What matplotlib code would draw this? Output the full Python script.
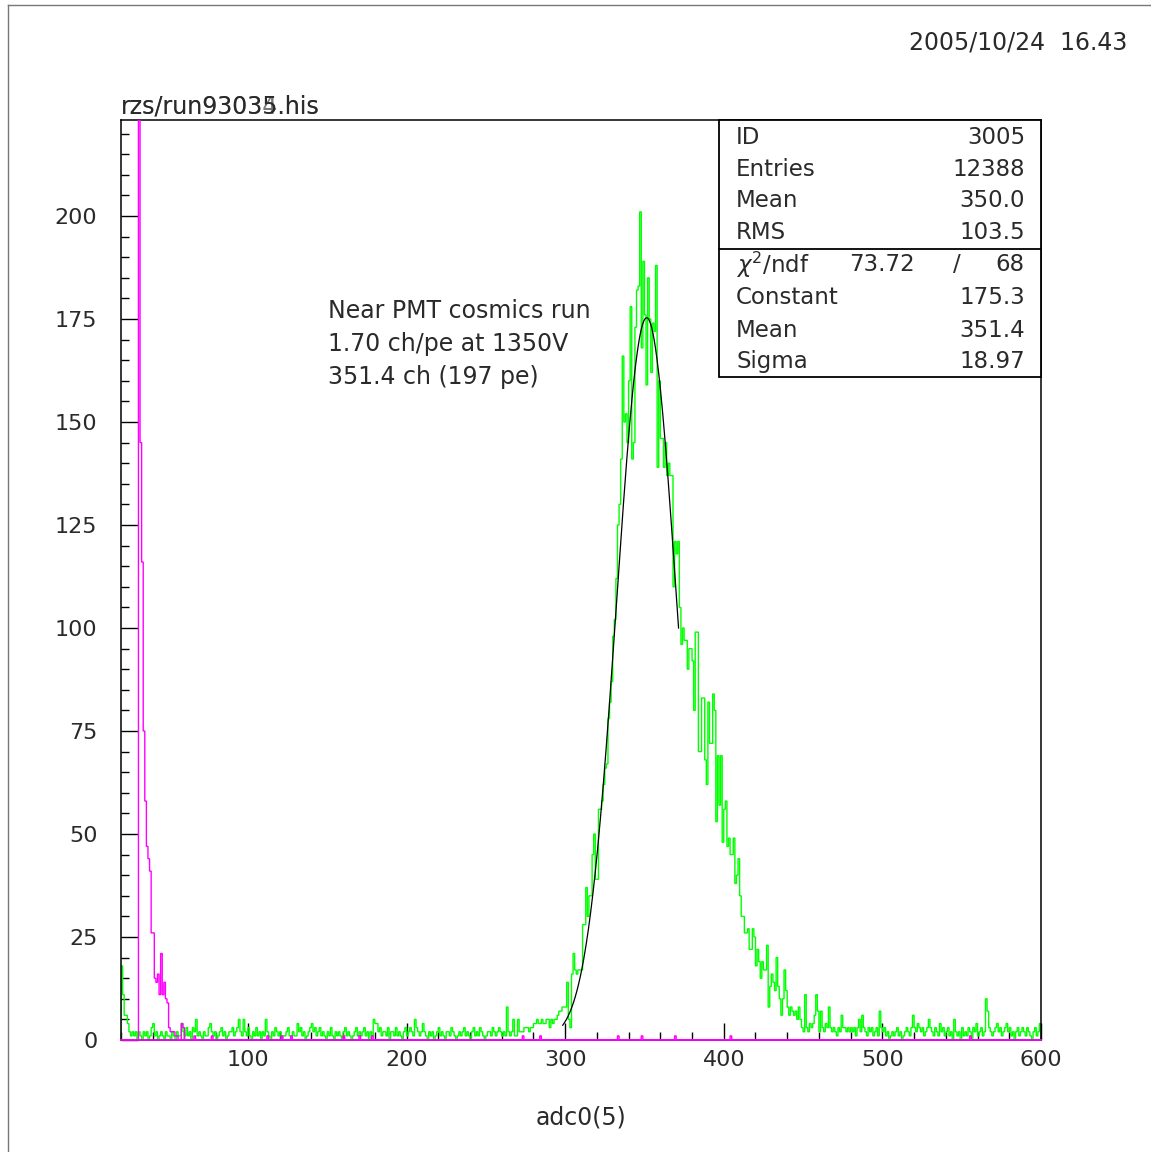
import numpy as np
import matplotlib.pyplot as plt
from matplotlib.patches import Rectangle
from matplotlib.lines import Line2D
from matplotlib.ticker import MultipleLocator

# histogram range, 1 channel per bin
x_lo, x_hi = 20, 600
y_top = 223.3

# green histogram (adc0(5)), bins 20..599, 20 bins per row
green_counts = [
    18, 11, 6, 6, 4, 2, 1, 2, 1, 2, 0, 2, 1, 0, 2, 1, 2, 0, 1, 3,
    4, 1, 2, 0, 1, 2, 1, 0, 2, 1, 1, 0, 2, 1, 0, 2, 1, 1, 4, 2,
    1, 3, 1, 2, 0, 3, 2, 5, 1, 2, 1, 0, 2, 1, 1, 3, 4, 2, 1, 2,
    0, 1, 2, 3, 1, 2, 0, 1, 2, 2, 3, 1, 2, 3, 5, 2, 1, 5, 2, 1,
    3, 1, 0, 2, 1, 3, 1, 2, 0, 2, 1, 5, 2, 1, 0, 2, 1, 3, 2, 1,
    2, 0, 1, 1, 2, 3, 1, 0, 2, 1, 1, 4, 2, 3, 1, 2, 0, 1, 2, 3,
    4, 2, 3, 1, 2, 3, 1, 2, 1, 0, 2, 1, 3, 1, 0, 2, 1, 2, 1, 0,
    2, 3, 1, 2, 1, 0, 1, 2, 3, 1, 2, 1, 2, 3, 1, 2, 0, 2, 1, 5,
    4, 4, 2, 3, 1, 2, 2, 1, 3, 0, 2, 2, 1, 3, 1, 2, 1, 0, 2, 3,
    1, 2, 3, 2, 1, 5, 3, 2, 1, 2, 4, 2, 1, 0, 2, 1, 2, 0, 1, 2,
    3, 1, 2, 1, 0, 2, 2, 1, 3, 2, 1, 0, 1, 2, 1, 2, 3, 1, 2, 1,
    0, 2, 3, 1, 2, 1, 3, 2, 1, 0, 1, 2, 2, 1, 3, 2, 1, 2, 3, 2,
    1, 2, 1, 8, 2, 1, 2, 5, 1, 1, 5, 2, 2, 2, 3, 3, 3, 2, 3, 3,
    4, 4, 5, 4, 4, 5, 4, 4, 5, 5, 3, 5, 4, 5, 5, 6, 7, 7, 8, 8,
    8, 14, 5, 3, 16, 21, 17, 16, 17, 17, 17, 28, 28, 37, 30, 35, 35, 45, 50, 39,
    39, 56, 56, 58, 62, 66, 67, 78, 82, 87, 98, 102, 112, 125, 130, 141, 166, 150, 152, 145,
    160, 178, 141, 145, 173, 182, 183, 201, 168, 189, 176, 159, 185, 175, 162, 174, 172, 188, 139, 160,
    146, 146, 139, 145, 137, 140, 137, 137, 110, 121, 118, 121, 105, 96, 100, 97, 97, 90, 95, 95,
    92, 80, 99, 99, 70, 70, 83, 83, 68, 62, 82, 72, 72, 84, 80, 53, 69, 57, 69, 48,
    56, 58, 47, 49, 45, 45, 49, 38, 40, 44, 35, 30, 30, 26, 26, 27, 22, 22, 27, 25,
    18, 22, 19, 15, 19, 17, 17, 23, 8, 13, 16, 14, 12, 20, 13, 10, 6, 10, 17, 12,
    8, 6, 8, 7, 6, 7, 5, 8, 5, 3, 2, 11, 3, 2, 4, 3, 4, 6, 11, 7,
    2, 7, 3, 2, 4, 3, 8, 3, 2, 3, 2, 1, 3, 2, 6, 3, 3, 2, 3, 2,
    3, 2, 3, 1, 3, 5, 2, 6, 3, 2, 1, 3, 2, 3, 1, 2, 3, 1, 7, 3,
    2, 3, 1, 2, 0, 1, 2, 1, 2, 3, 1, 2, 0, 1, 2, 3, 2, 1, 3, 6,
    3, 2, 4, 3, 2, 3, 1, 2, 3, 5, 3, 2, 1, 3, 2, 1, 4, 2, 3, 1,
    2, 3, 1, 2, 0, 5, 2, 1, 2, 0, 3, 1, 2, 1, 3, 2, 0, 3, 2, 4,
    1, 2, 3, 1, 2, 10, 7, 3, 2, 1, 2, 3, 4, 2, 3, 1, 2, 3, 4, 2,
    3, 1, 2, 0, 2, 3, 1, 2, 3, 2, 1, 3, 2, 1, 0, 2, 3, 1, 2, 4,
]

# magenta histogram: bins 20..59, rest empty except single counts
magenta_head = [
    0, 0, 0, 0, 0, 0, 0, 0, 0, 0,
    0, 2500, 145, 116, 75, 58, 47, 44, 41, 26,
    26, 15, 14, 16, 11, 21, 11, 14, 10, 9,
    3, 2, 2, 2, 1, 1, 0, 0, 4, 3,
]
magenta_single_bins = [66, 77, 112, 121, 127, 160, 170, 178, 273, 284,
                       333, 348, 369, 404, 555]

# gaussian fit
fit_const, fit_mean, fit_sigma = 175.3, 351.4, 18.97
fit_lo, fit_hi = 298.5, 371.5

stats_top = [("ID", "3005"), ("Entries", "12388"), ("Mean", "350.0"), ("RMS", "103.5")]
chi2_val, ndf_val = "73.72", "68"
stats_fit = [("Constant", "175.3"), ("Mean", "351.4"), ("Sigma", "18.97")]

note_lines = ["Near PMT cosmics run", "1.70 ch/pe at 1350V", "351.4 ch (197 pe)"]

plt.rcParams["font.family"] = "DejaVu Sans"
txt_col = "#2a2a2a"
fs = 16
fs_big = 17
fs_box = 16.5

edges = np.arange(x_lo, x_hi + 1)
green = np.array(green_counts, dtype=float)
magenta = np.zeros(len(edges) - 1)
magenta[:len(magenta_head)] = magenta_head
for b in magenta_single_bins:
    magenta[b - x_lo] = 1

fig = plt.figure(figsize=(11.51, 11.52), dpi=100)
ax = fig.add_axes([121 / 1151, 1 - 1040 / 1152, 920 / 1151, 920 / 1152])

ax.stairs(green, edges, color="#00ff00", lw=1.0, zorder=2)
ax.stairs(magenta, edges, color="#ff00ff", lw=1.0, zorder=3)
# empty magenta bins lie on the axis line
ax.plot([x_lo, x_hi], [0, 0], color="#ff00ff", lw=1.3, zorder=3, clip_on=False)

xf = np.linspace(fit_lo, fit_hi, 200)
yf = fit_const * np.exp(-0.5 * ((xf - fit_mean) / fit_sigma) ** 2)
ax.plot(xf, yf, color="black", lw=0.9, zorder=4)

ax.set_xlim(x_lo, x_hi)
ax.set_ylim(0, y_top)
ax.xaxis.set_major_locator(MultipleLocator(100))
ax.xaxis.set_minor_locator(MultipleLocator(20))
ax.yaxis.set_major_locator(MultipleLocator(25))
ax.yaxis.set_minor_locator(MultipleLocator(5))
ax.tick_params(which="both", direction="in", top=False, right=False,
               labelsize=fs, labelcolor=txt_col, width=1.0)
ax.tick_params(which="major", length=12)
ax.tick_params(which="minor", length=5.5)
ax.tick_params(axis="y", pad=17)
ax.tick_params(axis="x", pad=7)
for s in ax.spines.values():
    s.set_linewidth(1.1)

# stats box
bx0, by0, bdiv = 0.65, 0.7207, 0.8598
ax.add_patch(Rectangle((bx0, by0), 1 - bx0, 1 - by0, transform=ax.transAxes,
                       facecolor="white", edgecolor="black", lw=1.3, zorder=5,
                       clip_on=False))
ax.plot([bx0, 1], [bdiv, bdiv], transform=ax.transAxes, color="black",
        lw=1.3, zorder=6, clip_on=False)
lab_x, val_x = 0.6685, 0.9826
rows_top_y = [0.9815, 0.9467, 0.9120, 0.8772]
for (lab, val), yy in zip(stats_top, rows_top_y):
    ax.text(lab_x, yy, lab, transform=ax.transAxes, fontsize=fs_box, color=txt_col,
            va="center", ha="left", zorder=7)
    ax.text(val_x, yy, val, transform=ax.transAxes, fontsize=fs_box, color=txt_col,
            va="center", ha="right", zorder=7)
ax.text(lab_x, 0.8424, r"$\chi^2$/ndf", transform=ax.transAxes, fontsize=fs_box,
        color=txt_col, va="center", ha="left", zorder=7)
ax.text(0.827, 0.8424, chi2_val, transform=ax.transAxes, fontsize=fs_box,
        color=txt_col, va="center", ha="center", zorder=7)
ax.text(0.909, 0.8424, "/", transform=ax.transAxes, fontsize=fs_box,
        color=txt_col, va="center", ha="center", zorder=7)
ax.text(val_x, 0.8424, ndf_val, transform=ax.transAxes, fontsize=fs_box,
        color=txt_col, va="center", ha="right", zorder=7)
rows_fit_y = [0.8076, 0.7717, 0.7370]
for (lab, val), yy in zip(stats_fit, rows_fit_y):
    ax.text(lab_x, yy, lab, transform=ax.transAxes, fontsize=fs_box, color=txt_col,
            va="center", ha="left", zorder=7)
    ax.text(val_x, yy, val, transform=ax.transAxes, fontsize=fs_box, color=txt_col,
            va="center", ha="right", zorder=7)

# note text
for i, line in enumerate(note_lines):
    ax.text(150.5, 177 - 8.0 * i, line, fontsize=fs_big, color=txt_col,
            va="center", ha="left")

# titles, date, x label
fig.text(121 / 1151, 1 - 113 / 1152, "rzs/run93034.his", fontsize=fs_big,
         color="#777777", va="baseline", ha="left")
fig.text(121 / 1151, 1 - 113 / 1152, "rzs/run93035.his", fontsize=fs_big,
         color=txt_col, va="baseline", ha="left")
fig.text(1127 / 1151, 1 - 42 / 1152, "2005/10/24  16.43", fontsize=fs_big,
         color=txt_col, va="center", ha="right")
fig.text(581 / 1151, 1 - 1118 / 1152, "adc0(5)", fontsize=fs_big,
         color=txt_col, va="center", ha="center")

# page frame
fig.add_artist(Line2D([8 / 1151, 8 / 1151], [0, 1 - 5 / 1152], color="#777777", lw=1.0))
fig.add_artist(Line2D([8 / 1151, 1], [1 - 5 / 1152, 1 - 5 / 1152], color="#777777", lw=1.0))

fig.savefig("out.png", dpi=100)
